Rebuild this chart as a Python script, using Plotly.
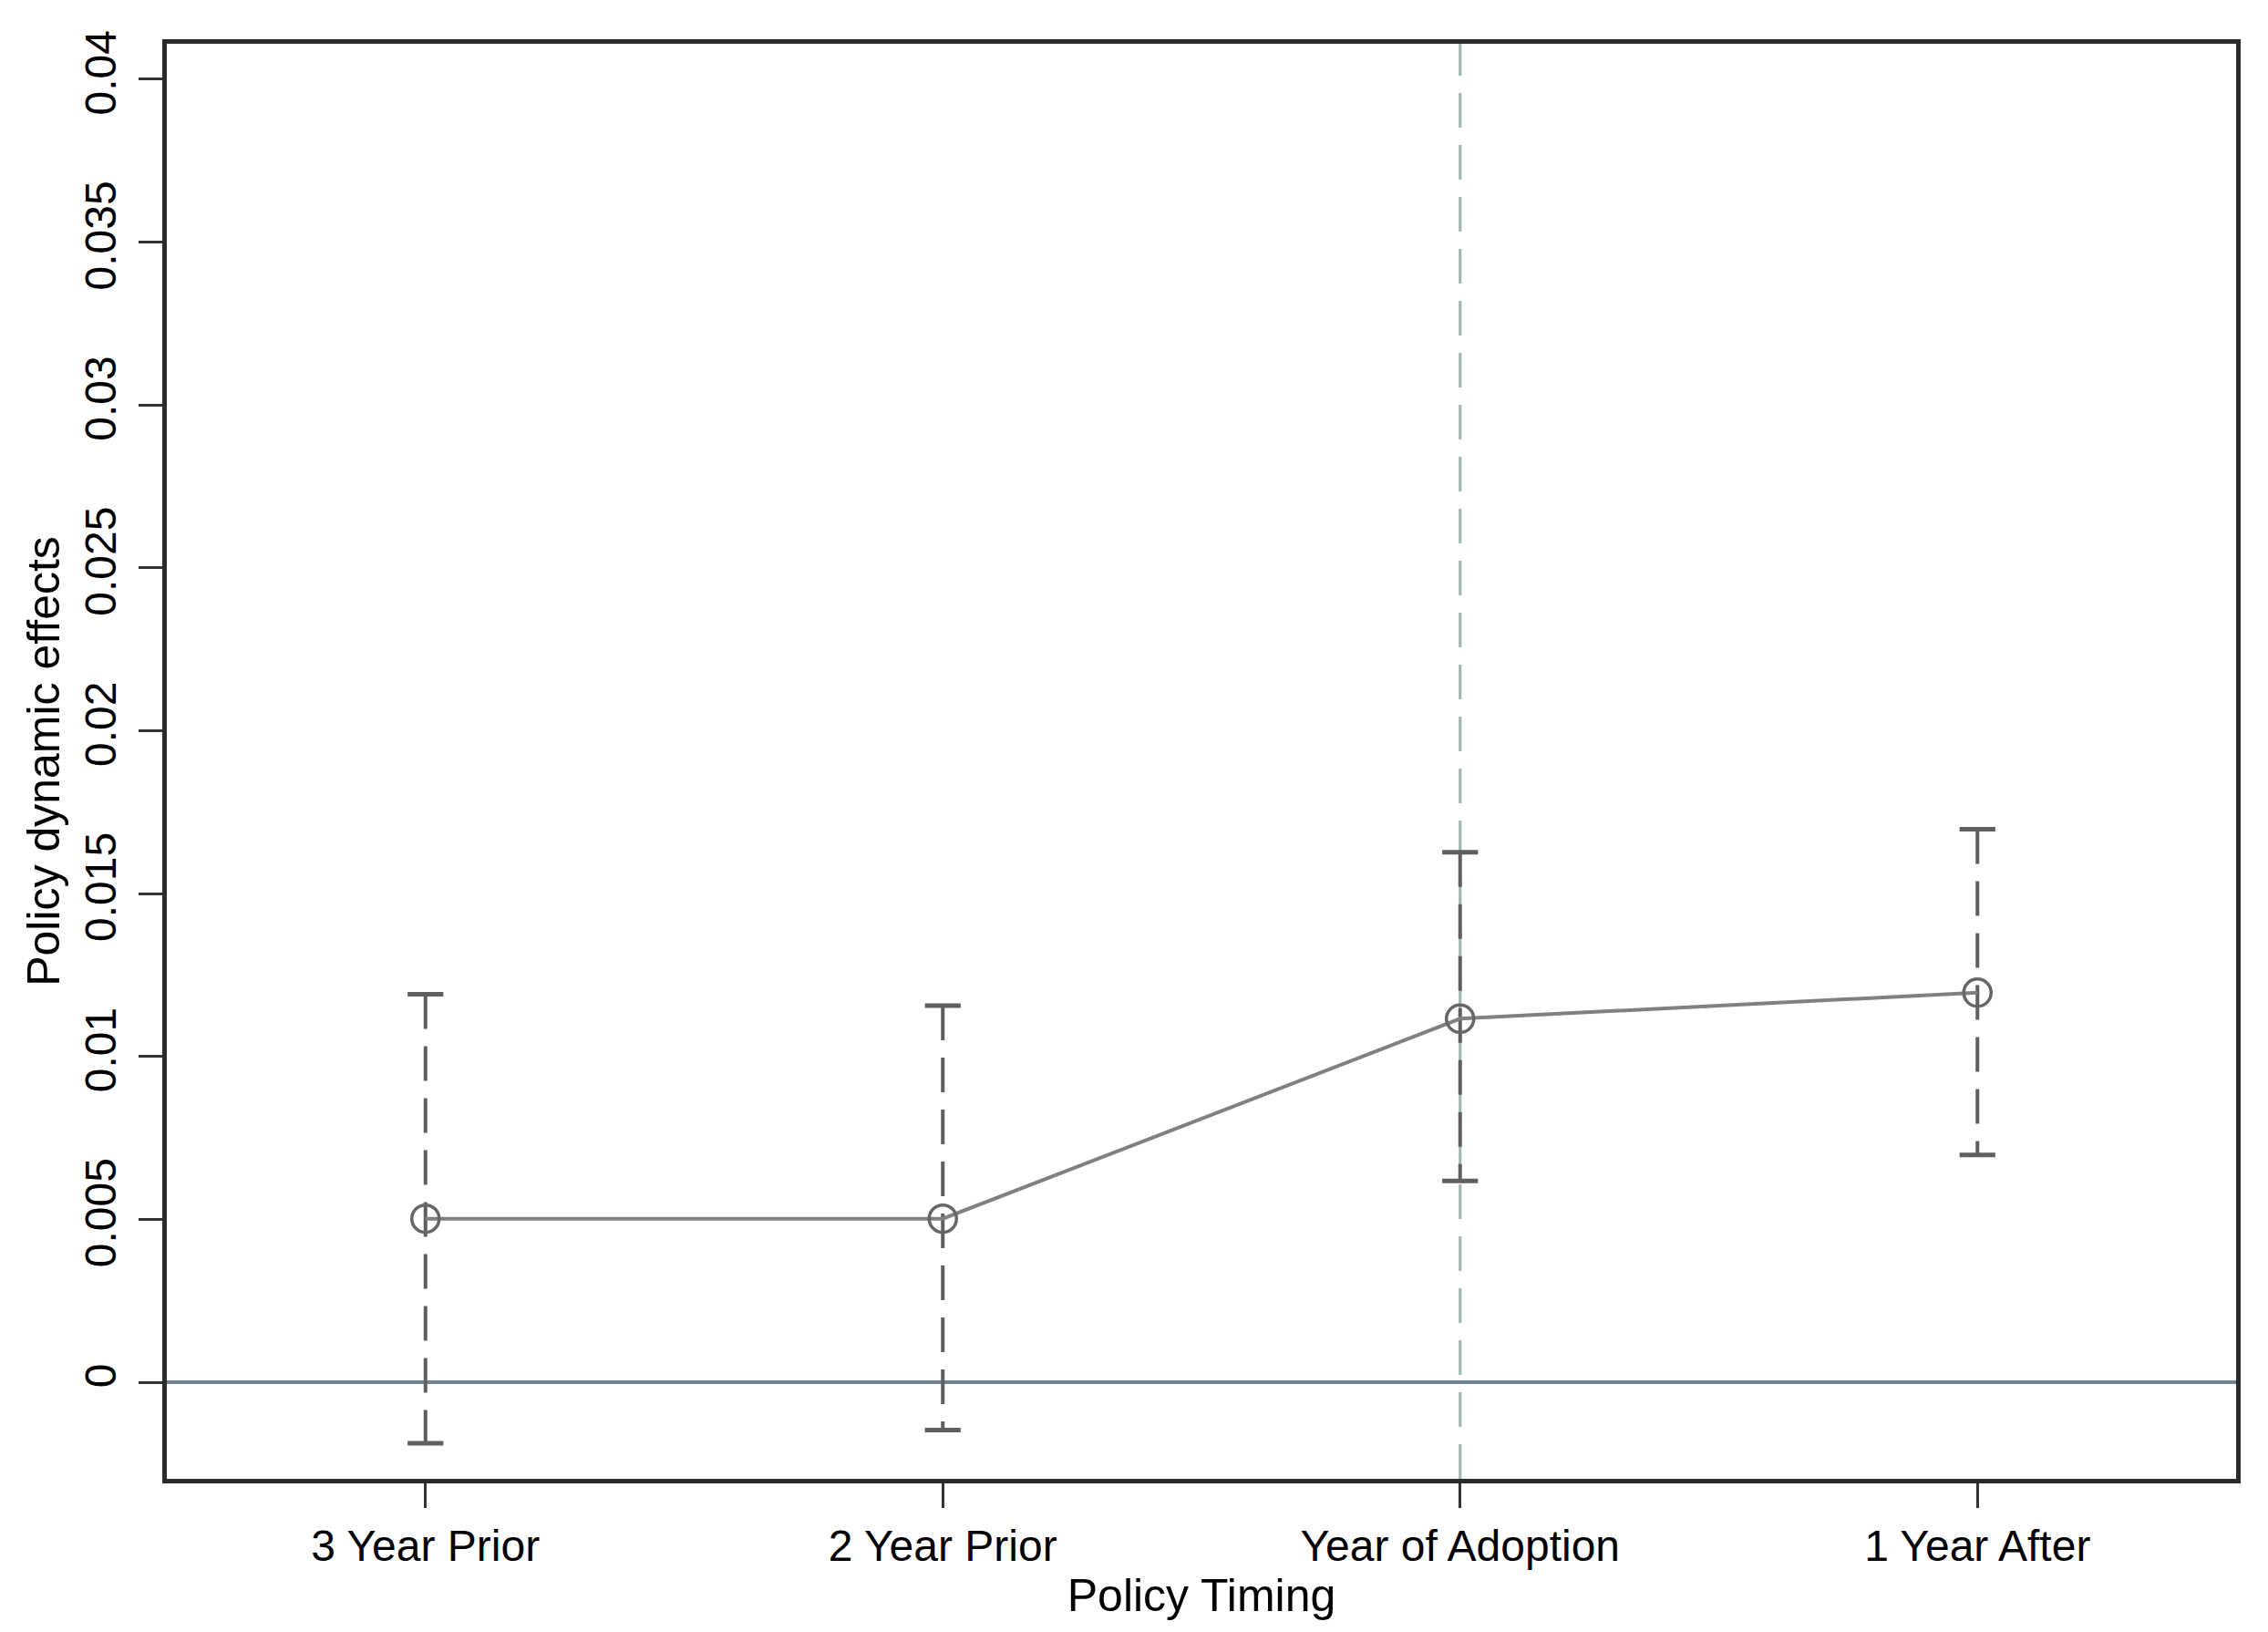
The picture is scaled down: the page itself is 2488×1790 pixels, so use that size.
import plotly.graph_objects as go

categories = ["3 Year Prior", "2 Year Prior", "Year of Adoption", "1 Year After"]
estimate = [0.00502, 0.00502, 0.01116, 0.01196]
ci_upper = [0.01191, 0.01156, 0.01627, 0.01698]
ci_lower = [-0.00187, -0.00147, 0.00618, 0.00698]
y_tickvals = [0, 0.005, 0.01, 0.015, 0.02, 0.025, 0.03, 0.035, 0.04]
y_ticktext = ["0", "0.005", "0.01", "0.015", "0.02", "0.025", "0.03", "0.035", "0.04"]
adoption_index = 2

xpos = list(range(len(categories)))
FONT = "Arial, Liberation Sans, sans-serif"

fig = go.Figure()

# confidence intervals (dashed vertical segments)
for i in xpos:
    fig.add_trace(go.Scatter(
        x=[xpos[i], xpos[i]], y=[ci_upper[i], ci_lower[i]],
        mode="lines", line=dict(color="#5f5f5f", width=4, dash="38px,19px"),
        showlegend=False, hoverinfo="skip"))

# caps
fig.add_trace(go.Scatter(
    x=xpos + xpos, y=ci_upper + ci_lower, mode="markers",
    marker=dict(symbol="line-ew", size=28, line=dict(color="#5f5f5f", width=5)),
    showlegend=False, hoverinfo="skip"))

# point estimates
fig.add_trace(go.Scatter(
    x=xpos, y=estimate, mode="lines+markers",
    line=dict(color="#808080", width=4),
    marker=dict(symbol="circle-open", size=30, color="#666666", line=dict(width=3.5, color="#666666")),
    showlegend=False))

fig.add_vline(x=xpos[adoption_index], line=dict(color="#9fb5ae", width=3, dash="38px,19px"), layer="below")
fig.add_hline(y=0, line=dict(color="#6d8595", width=4), layer="below")

fig.update_layout(
    width=2488, height=1790,
    margin=dict(l=175, r=43, t=40, b=176),
    paper_bgcolor="white", plot_bgcolor="white",
    font=dict(family=FONT, size=48, color="black"),
)
fig.update_xaxes(
    range=[-0.5, 3.5], tickvals=xpos, ticktext=categories,
    showgrid=False, zeroline=False,
    showline=True, linecolor="#2b2b2b", linewidth=5, mirror=True,
    ticks="outside", ticklen=27, tickwidth=3, tickcolor="#333333",
    tickfont=dict(size=48, family=FONT),
    title=dict(text="Policy Timing", font=dict(size=50, family=FONT), standoff=2),
)
fig.update_yaxes(
    range=[-0.002965, 0.04109], tickvals=y_tickvals, ticktext=y_ticktext,
    tickangle=-90, ticklabelstandoff=6,
    showgrid=False, zeroline=False,
    showline=True, linecolor="#2b2b2b", linewidth=5, mirror=True,
    ticks="outside", ticklen=26, tickwidth=3, tickcolor="#333333",
    tickfont=dict(size=48, family=FONT),
    title=dict(text="Policy dynamic effects", font=dict(size=50, family=FONT), standoff=4),
)

fig.write_html("out.html")
